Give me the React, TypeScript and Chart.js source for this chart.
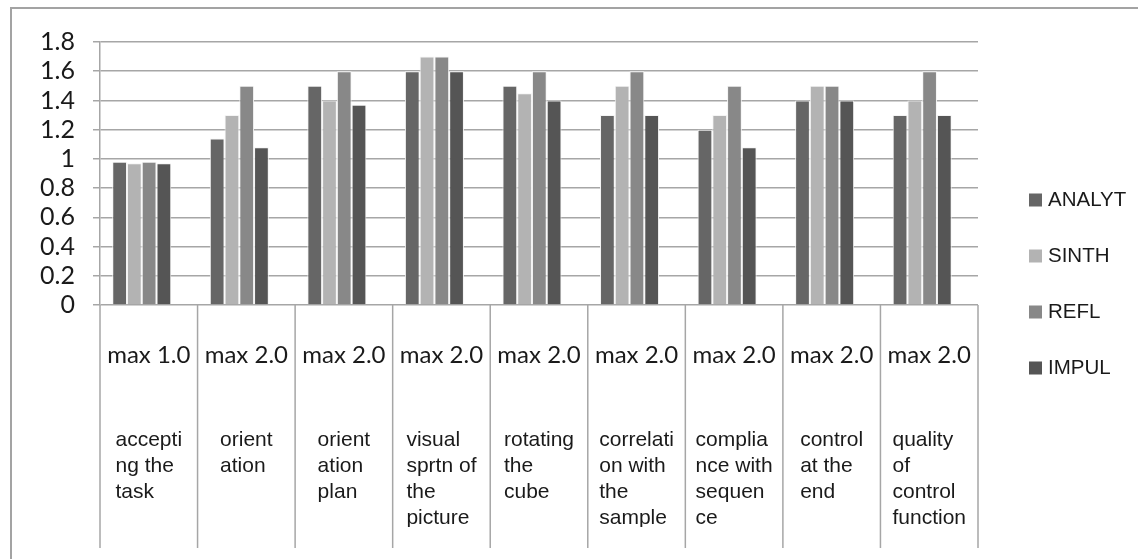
import React, { useEffect, useRef } from 'react';
import { Chart, registerables } from 'chart.js';

Chart.register(...registerables);

// ---- data ----
const maxLabels = ['max 1.0', 'max 2.0', 'max 2.0', 'max 2.0', 'max 2.0', 'max 2.0', 'max 2.0', 'max 2.0', 'max 2.0'];
const descLines = [
  ['accepti', 'ng the', 'task'],
  ['orient', 'ation'],
  ['orient', 'ation', 'plan'],
  ['visual', 'sprtn of', 'the', 'picture'],
  ['rotating', 'the', 'cube'],
  ['correlati', 'on with', 'the', 'sample'],
  ['complia', 'nce with', 'sequen', 'ce'],
  ['control', 'at the', 'end'],
  ['quality', 'of', 'control', 'function'],
];
const seriesNames = ['ANALYT', 'SINTH', 'REFL', 'IMPUL'];
const analyt = [0.98, 1.14, 1.5, 1.6, 1.5, 1.3, 1.2, 1.4, 1.3];
const sinth = [0.97, 1.3, 1.4, 1.7, 1.45, 1.5, 1.3, 1.5, 1.4];
const refl = [0.98, 1.5, 1.6, 1.7, 1.6, 1.6, 1.5, 1.5, 1.6];
const impul = [0.97, 1.08, 1.37, 1.6, 1.4, 1.3, 1.08, 1.4, 1.3];
const seriesColors = ['#666666', '#b3b3b3', '#888888', '#555555'];
const yTickLabels = ['0', '0.2', '0.4', '0.6', '0.8', '1', '1.2', '1.4', '1.6', '1.8'];

const GRID = '#a6a6a6';
const TEXT = '#1a1a1a';

export default function App() {
  const ref = useRef<HTMLCanvasElement>(null);

  useEffect(() => {
    const canvas = ref.current;
    if (!canvas) return;
    const series = [analyt, sinth, refl, impul];

    const cellsPlugin = {
      id: 'descCells',
      afterDraw(chart: any) {
        const ctx = chart.ctx;
        const xs = chart.scales.xMax;
        const area = chart.chartArea;
        const step = xs.getPixelForTick(1) - xs.getPixelForTick(0);
        ctx.save();
        ctx.strokeStyle = GRID;
        ctx.lineWidth = 1.5;
        for (let i = 0; i <= maxLabels.length; i++) {
          const x = xs.getPixelForTick(0) - step / 2 + i * step;
          ctx.beginPath();
          ctx.moveTo(x, area.bottom);
          ctx.lineTo(x, xs.bottom);
          ctx.stroke();
        }
        ctx.beginPath();
        ctx.rect(xs.left - 5, area.bottom, xs.width + 10, 222);
        ctx.clip();
        ctx.font = '21px "Liberation Sans", Arial, sans-serif';
        ctx.fillStyle = TEXT;
        ctx.textBaseline = 'middle';
        ctx.textAlign = 'left';
        descLines.forEach((lines, i) => {
          const cx = xs.getPixelForTick(i);
          const w = Math.max(...lines.map((l) => ctx.measureText(l).width));
          lines.forEach((l, j) => {
            ctx.fillText(l, cx - w / 2, area.bottom + 135 + j * 26);
          });
        });
        ctx.restore();
      },
    };

    const legendPlugin = {
      id: 'sideLegend',
      afterDraw(chart: any) {
        const ctx = chart.ctx;
        const area = chart.chartArea;
        ctx.save();
        ctx.font = '20.5px "Liberation Sans", Arial, sans-serif';
        ctx.textBaseline = 'middle';
        ctx.textAlign = 'left';
        chart.data.datasets.forEach((ds: any, i: number) => {
          const y = 200 + i * 56;
          ctx.fillStyle = ds.backgroundColor;
          ctx.fillRect(area.right + 51, y - 6.5, 13, 13);
          ctx.fillStyle = TEXT;
          ctx.fillText(ds.label, area.right + 70, y);
        });
        ctx.restore();
      },
    };

    const chart = new Chart(canvas, {
      type: 'bar',
      data: {
        datasets: seriesNames.map((name, s) => ({
          label: name,
          data: series[s].map((v, i) => ({ x: i, y: v })),
          backgroundColor: seriesColors[s],
          borderColor: '#f4f4f4',
          borderWidth: 1,
          categoryPercentage: 0.605,
          barPercentage: 1,
        })),
      },
      options: {
        animation: false,
        responsive: false,
        layout: { padding: { top: 42, right: 160, bottom: 11, left: 0 } },
        plugins: { legend: { display: false }, tooltip: { enabled: false } },
        scales: {
          x: {
            type: 'linear',
            display: false,
            offset: false,
            min: -0.428,
            max: 8.572,
            ticks: { stepSize: 1, includeBounds: false },
            grid: { display: false },
          },
          xMax: {
            type: 'category',
            labels: maxLabels,
            position: 'bottom',
            offset: true,
            grid: { display: false, drawTicks: false },
            border: { display: false },
            ticks: {
              font: { family: 'Lato', size: 24 },
              color: TEXT,
              padding: 35.6,
              maxRotation: 0,
              minRotation: 0,
              autoSkip: false,
            },
            afterFit: (s: any) => {
              s.height = 243;
            },
          },
          y: {
            min: 0,
            max: 1.8,
            ticks: {
              stepSize: 0.2,
              autoSkip: false,
              padding: 18,
              font: { family: 'Lato', size: 25 },
              color: TEXT,
              callback: (_v: any, i: number) => yTickLabels[i],
            },
            grid: { color: GRID, lineWidth: 1.5, tickLength: 7, drawTicks: true },
            border: { display: true, color: GRID, width: 1.5 },
            afterFit: (s: any) => {
              s.width = 100;
            },
          },
        },
      } as any,
      plugins: [cellsPlugin, legendPlugin],
    });

    return () => chart.destroy();
  }, []);

  return (
    <div style={{ position: 'absolute', left: 0, top: 0, width: 1138, height: 559, overflow: 'hidden', background: '#ffffff' }}>
      <div
        style={{
          position: 'absolute',
          left: 10,
          top: 7,
          width: 1140,
          height: 560,
          borderTop: '2px solid #a3a3a3',
          borderLeft: '2px solid #a3a3a3',
        }}
      />
      <canvas ref={ref} width={1138} height={559} style={{ position: 'absolute', left: 0, top: 0, width: 1138, height: 559 }} />
    </div>
  );
}
